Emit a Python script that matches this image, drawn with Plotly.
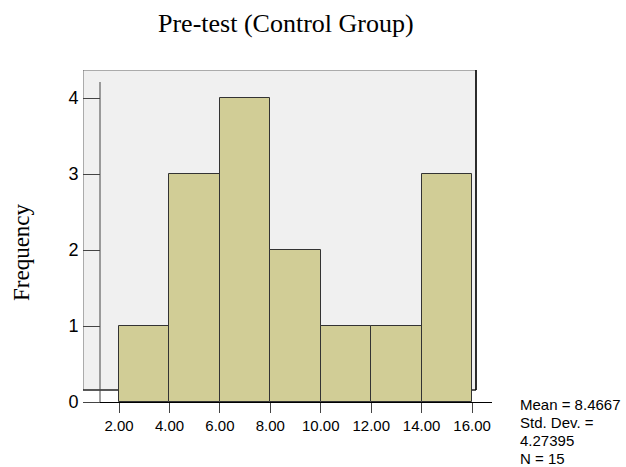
import plotly.graph_objects as go

bin_left = [2, 4, 6, 8, 10, 12, 14]
bin_width = 2
counts = [1, 3, 4, 2, 1, 1, 3]
x_ticks = [2, 4, 6, 8, 10, 12, 14, 16]
x_tick_labels = ["2.00", "4.00", "6.00", "8.00", "10.00", "12.00", "14.00", "16.00"]
y_ticks = [0, 1, 2, 3, 4]
stats_lines = ["Mean = 8.4667", "Std. Dev. =", "4.27395", "N = 15"]

W, H = 626, 467
L, R, T, B = 83, 492, 70, 402
xr = [0.571, 16.79]
yr = [0, 4.37]

centers = [b + bin_width / 2 for b in bin_left]

fig = go.Figure()
fig.add_trace(go.Bar(
    x=centers, y=counts, width=[bin_width] * len(counts),
    marker=dict(color="#D1CD96", line=dict(color="#333333", width=1)),
    hoverinfo="skip",
))

def px2x(p):
    return xr[0] + (p - L) / (R - L) * (xr[1] - xr[0])

def px2y(p):
    return yr[0] + (B - p) / (B - T) * (yr[1] - yr[0])

shapes = [
    dict(type="rect", xref="x", yref="y", x0=px2x(83), x1=px2x(476),
         y0=px2y(390), y1=px2y(70), fillcolor="#F0F0F0",
         line=dict(color="#666666", width=1), layer="below"),
    dict(type="line", xref="x", yref="y", x0=px2x(476), x1=px2x(476),
         y0=px2y(390), y1=px2y(70), line=dict(color="#000000", width=1.5), layer="below"),
    dict(type="line", xref="x", yref="y", x0=px2x(83), x1=px2x(476),
         y0=px2y(390), y1=px2y(390), line=dict(color="#000000", width=1), layer="below"),
    dict(type="line", xref="x", yref="y", x0=px2x(100), x1=px2x(100),
         y0=0, y1=px2y(82), line=dict(color="#444444", width=1), layer="below"),
]

annotations = [
    dict(text="Pre-test (Control Group)", xref="paper", yref="paper",
         x=(286 - L) / (R - L), y=(B - 23) / (B - T), showarrow=False,
         font=dict(family="Liberation Serif, Times New Roman, serif", size=26, color="black"),
         xanchor="center", yanchor="middle"),
    dict(text="Frequency", xref="paper", yref="paper",
         x=(22 - L) / (R - L), y=(B - 252) / (B - T), showarrow=False, textangle=-90,
         font=dict(family="Liberation Serif, Times New Roman, serif", size=23, color="black"),
         xanchor="center", yanchor="middle"),
]
for i, line in enumerate(stats_lines):
    annotations.append(dict(
        text=line, xref="paper", yref="paper",
        x=(518 - L) / (R - L), y=(B - (404 + 18.3 * i)) / (B - T),
        showarrow=False, align="left",
        font=dict(family="Arial, Liberation Sans, sans-serif", size=15, color="black"),
        xanchor="left", yanchor="middle"))

fig.update_layout(
    width=W, height=H,
    margin=dict(l=L, r=W - R, t=T, b=H - B, autoexpand=False),
    paper_bgcolor="white", plot_bgcolor="white",
    showlegend=False,
    bargap=0,
    shapes=shapes,
    xaxis=dict(
        range=xr, tickvals=x_ticks, ticktext=x_tick_labels,
        ticks="outside", ticklen=10, tickcolor="#444444", tickwidth=1,
        showline=True, linecolor="#000000", linewidth=1,
        showgrid=False, zeroline=False,
        tickfont=dict(family="Arial, Liberation Sans, sans-serif", size=15, color="black"),
    ),
    yaxis=dict(
        range=yr, tickvals=y_ticks, anchor="free",
        position=(100 - L) / (R - L),
        ticks="outside", ticklen=17, tickcolor="#444444", tickwidth=1,
        showline=False, showgrid=False, zeroline=False,
        ticklabelstandoff=1,
        tickfont=dict(family="Arial, Liberation Sans, sans-serif", size=18, color="black"),
    ),
    annotations=annotations,
)

fig.write_html("out.html", config={"displayModeBar": False},
               post_script="document.body.style.margin='0';document.body.style.overflow='hidden';")
